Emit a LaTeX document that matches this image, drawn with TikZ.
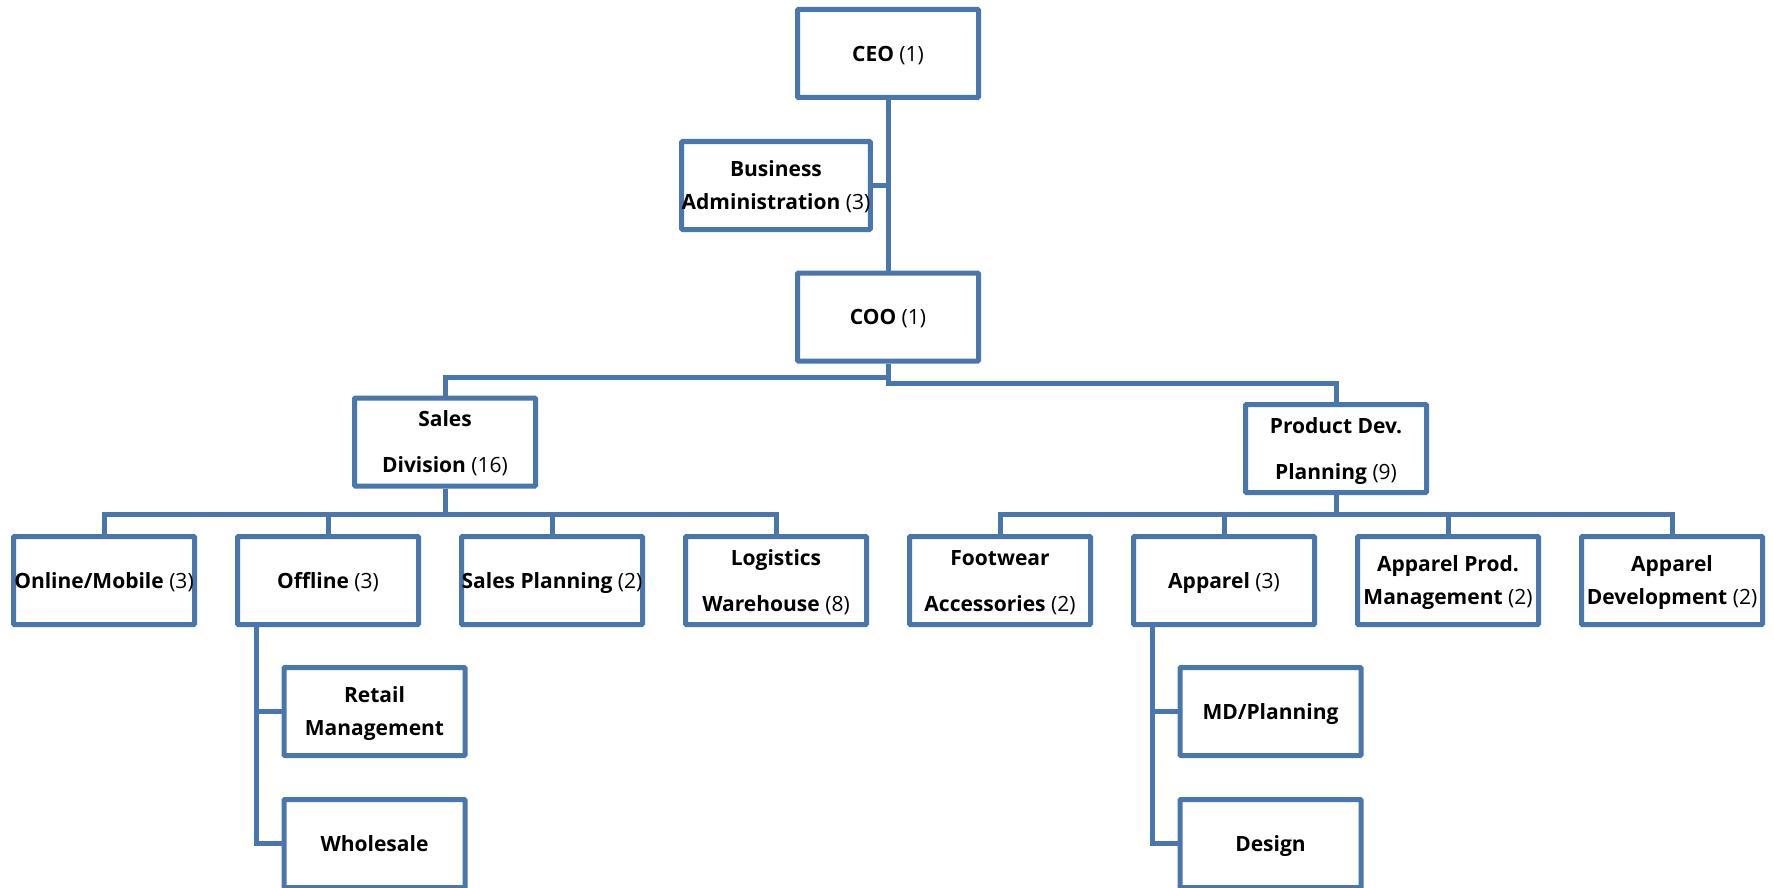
\documentclass[tikz,border=0pt]{standalone}
\usepackage{fontspec}
\setmainfont{Open Sans}
\definecolor{orgblue}{RGB}{74,118,174}
\begin{document}
\begin{tikzpicture}[x=1pt,y=-1pt,
  unit/.style={draw=orgblue, line width=5pt, fill=white, minimum width=181pt, minimum height=88pt,
    inner sep=0pt, align=center, text depth=0pt, font=\fontsize{21}{33}\selectfont, rounded corners=1pt},
  link/.style={draw=orgblue, line width=5pt}]
\useasboundingbox (0,0) rectangle (1774,888);
\clip (0,0) rectangle (1774,888);
\node[unit] (ceo) at (888,53.5) {\textbf{CEO} (1)};
\node[unit] (ba) at (776,185.5) {\textbf{Business}\\\textbf{Administration} (3)};
\node[unit] (coo) at (888,317) {\textbf{COO} (1)};
\node[unit] (sales) at (445,442) {\textbf{Sales}\\[13pt]\textbf{Division} (16)};
\node[unit] (pdev) at (1336,448.5) {\textbf{Product Dev.}\\[13pt]\textbf{Planning} (9)};
\node[unit] (online) at (104,580.5) {\textbf{Online/Mobile} (3)};
\node[unit] (offline) at (328,580.5) {\textbf{Offline} (3)};
\node[unit] (splan) at (552,580.5) {\textbf{Sales Planning} (2)};
\node[unit] (logi) at (776,580.5) {\textbf{Logistics}\\[13pt]\textbf{Warehouse} (8)};
\node[unit] (foot) at (1000,580.5) {\textbf{Footwear}\\[13pt]\textbf{Accessories} (2)};
\node[unit] (app) at (1224,580.5) {\textbf{Apparel} (3)};
\node[unit] (appm) at (1448,580.5) {\textbf{Apparel Prod.}\\\textbf{Management} (2)};
\node[unit] (appd) at (1672,580.5) {\textbf{Apparel}\\\textbf{Development} (2)};
\node[unit] (retail) at (374.5,711.5) {\textbf{Retail}\\\textbf{Management}};
\node[unit] (whole) at (374.5,843.5) {\textbf{Wholesale}};
\node[unit] (md) at (1270.5,711.5) {\textbf{MD/Planning}};
\node[unit] (design) at (1270.5,843.5) {\textbf{Design}};
% connectors
\draw[link] (ceo) -- (coo);
\draw[link] (ba.east) -- (ba.east -| ceo.south);
\draw[link] (coo.south) -- ++(0,14) -| (sales.north);
\draw[link] (coo.south) -- ++(0,20) -| (pdev.north);
\foreach \k in {online,offline,splan,logi}
  \draw[link] (sales.south) -- ++(0,25.5) -| (\k.north);
\foreach \k in {foot,app,appm,appd}
  \draw[link] (pdev.south) -- ++(0,19.5) -| (\k.north);
\draw[link] ([xshift=21pt]offline.south west) |- (retail.west);
\draw[link] ([xshift=21pt]offline.south west) |- (whole.west);
\draw[link] ([xshift=21pt]app.south west) |- (md.west);
\draw[link] ([xshift=21pt]app.south west) |- (design.west);
\end{tikzpicture}
\end{document}
